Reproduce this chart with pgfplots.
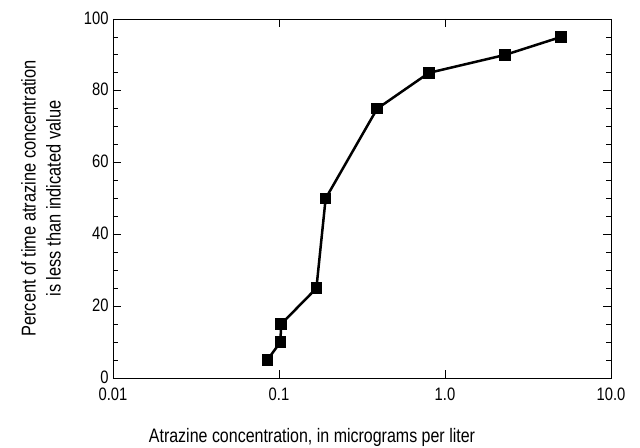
\documentclass[border=0pt]{standalone}
\usepackage{fontspec}
\setmainfont{Liberation Sans}[FakeStretch=0.82]
\usepackage{pgfplots}
\pgfplotsset{compat=1.18}
\begin{document}
\begin{tikzpicture}
\begin{axis}[
  scale only axis,
  width=498bp, height=359bp,
  at={(0,0)}, anchor=south west,
  xmode=log,
  xmin=0.01, xmax=10,
  ymin=0, ymax=100,
  log basis x=10,
  xtick={0.01,0.1,1,10},
  xticklabels={0.01,0.1,1.0,10.0},
  ytick={0,20,40,60,80,100},
  minor ytick={5,10,15,25,30,35,45,50,55,65,70,75,85,90,95},
  tick align=inside,
  major tick length=8bp,
  minor tick length=5bp,
  tick style={black, line width=0.8bp},
  axis line style={line width=0.9bp},
  /pgf/number format/assume math mode=true,
  tick label style={font=\fontsize{18bp}{20bp}\selectfont},
  xticklabel style={yshift=-6bp},
  yticklabel style={xshift=-1bp, yshift=1bp},
  xlabel={Atrazine concentration, in micrograms per liter},
  ylabel={Percent of time atrazine concentration\\is less than indicated value},
  xlabel style={font=\fontsize{19.5bp}{22bp}\selectfont, at={(axis description cs:0.5,0)}, anchor=center, yshift=-59bp, xshift=-50bp},
  ylabel style={font=\fontsize{20bp}{25bp}\selectfont, align=center, at={(axis description cs:0,0.5)}, anchor=center, yshift=72bp},
]
\addplot[black, line width=2.5bp, mark=square*, mark size=4.5bp, mark options={solid}] coordinates {
  (0.085,5) (0.102,10) (0.103,15) (0.168,25) (0.191,50) (0.39,75) (0.80,85) (2.3,90) (5.0,95)
};
\end{axis}
\pgfresetboundingbox
\path[use as bounding box] (-113bp,-70bp) rectangle (527bp,378bp);
\end{tikzpicture}
\end{document}
